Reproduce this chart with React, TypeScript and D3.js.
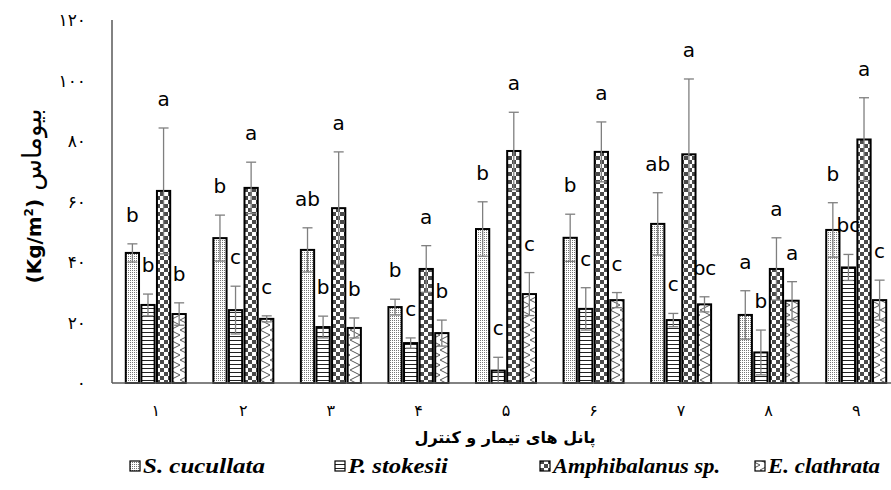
import React from "react";
import * as d3 from "d3";

// panel numbers (Persian digits)
const groups = ["۱", "۲", "۳", "۴", "۵", "۶", "۷", "۸", "۹"];
const seriesNames = ["S. cucullata", "P. stokesii", "Amphibalanus sp.", "E. clathrata"];
const yTickLabels = ["۰", "۲۰", "۴۰", "۶۰", "۸۰", "۱۰۰", "۱۲۰"];
const yTickValues = [0, 20, 40, 60, 80, 100, 120];

// biomass means and errors
const sMean = [43, 47.9, 44, 25.1, 50.9, 48, 52.6, 22.5, 50.6];
const sErr = [3, 7.6, 7.3, 2.6, 9, 7.8, 10.3, 8, 9];
const pMean = [25.8, 24.1, 18.5, 13.2, 4.1, 24.5, 20.8, 10.1, 38.2];
const pErr = [3.6, 7.9, 3.6, 1.7, 4.4, 7, 2.2, 7.4, 4.3];
const aMean = [63.5, 64.5, 57.8, 37.7, 76.7, 76.4, 75.6, 37.7, 80.5];
const aErr = [20.8, 8.5, 18.6, 7.7, 12.8, 9.9, 24.9, 10.3, 13.8];
const eMean = [22.8, 21.2, 18.2, 16.5, 29.4, 27.4, 26, 27.2, 27.4];
const eErr = [3.7, 1, 3.3, 4.3, 7.1, 2.5, 2.5, 6.3, 6.6];

// significance letters
const sLab = ["b", "b", "ab", "b", "b", "b", "ab", "a", "b"];
const pLab = ["b", "c", "b", "c", "c", "c", "c", "b", "bc"];
const aLab = ["a", "a", "a", "a", "a", "a", "a", "a", "a"];
const eLab = ["b", "c", "b", "b", "c", "c", "bc", "a", "c"];

const means = [sMean, pMean, aMean, eMean];
const errs = [sErr, pErr, aErr, eErr];
const labs = [sLab, pLab, aLab, eLab];
const patIds = ["patS", "patP", "patA", "patE"];

const W = 891;
const H = 490;
const left = 112;
const right = 900; // plot runs past the image edge, as in the source
const top = 20;
const bottom = 383;

export default function App() {
  const x0 = d3.scaleBand<string>().domain(groups).range([left, right]);
  const groupW = 60;
  const x1 = d3
    .scaleBand<string>()
    .domain(seriesNames)
    .range([0, groupW])
    .paddingInner(0.15);
  const off = (x0.bandwidth() - groupW) / 2;
  const y = d3.scaleLinear().domain([0, 120]).range([bottom, top]);
  const bw = x1.bandwidth();

  // legend layout
  const legX = [130, 335, 540, 755];
  const legLen = [122, 100, 167, 112];

  return (
    <svg
      width={W}
      height={H}
      style={{ position: "absolute", left: 0, top: 0, background: "#fff" }}
    >
      <defs>
        <pattern id="patS" width="2" height="2" patternUnits="userSpaceOnUse">
          <rect width="2" height="2" fill="#fff" />
          <rect width="1" height="1" fill="#777" />
        </pattern>
        <pattern id="patP" width="4" height="4" patternUnits="userSpaceOnUse">
          <rect width="4" height="4" fill="#fff" />
          <rect width="4" height="1" fill="#222" />
        </pattern>
        <pattern id="patA" width="8" height="8" patternUnits="userSpaceOnUse">
          <rect width="8" height="8" fill="#fff" />
          <rect width="4" height="4" fill="#4a4a4a" />
          <rect x="4" y="4" width="4" height="4" fill="#4a4a4a" />
        </pattern>
        <pattern id="patE" width="10" height="10" patternUnits="userSpaceOnUse">
          <rect width="10" height="10" fill="#fff" />
          <path d="M0,0 L10,5 L0,10" fill="none" stroke="#555" strokeWidth="1" />
        </pattern>
      </defs>

      {/* bars */}
      {seriesNames.map((s, si) =>
        groups.map((g, gi) => {
          const bx = x0(g)! + off + x1(s)!;
          const v = means[si][gi];
          return (
            <rect
              key={s + g}
              x={bx}
              y={y(v)}
              width={bw}
              height={y(0) - y(v)}
              fill={`url(#${patIds[si]})`}
              stroke="#000"
              strokeWidth={2}
            />
          );
        })
      )}

      {/* error bars */}
      {seriesNames.map((s, si) =>
        groups.map((g, gi) => {
          const cx = x0(g)! + off + x1(s)! + bw / 2;
          const v = means[si][gi];
          const e = errs[si][gi];
          const lo = Math.max(0, v - e);
          return (
            <g key={"e" + s + g} stroke="#7f7f7f" strokeWidth={1.3}>
              <line x1={cx} x2={cx} y1={y(v + e)} y2={y(lo)} />
              <line x1={cx - 5} x2={cx + 5} y1={y(v + e)} y2={y(v + e)} />
              <line x1={cx - 5} x2={cx + 5} y1={y(lo)} y2={y(lo)} />
            </g>
          );
        })
      )}

      {/* letters */}
      {seriesNames.map((s, si) =>
        groups.map((g, gi) => {
          const cx = x0(g)! + off + x1(s)! + bw / 2;
          const t = means[si][gi] + errs[si][gi];
          return (
            <text
              key={"l" + s + g}
              x={cx}
              y={y(t) - 22}
              textAnchor="middle"
              fontFamily="DejaVu Sans"
              fontSize={20}
              fill="#000"
            >
              {labs[si][gi]}
            </text>
          );
        })
      )}

      {/* axes */}
      <line x1={left} x2={left} y1={top} y2={bottom} stroke="#595959" strokeWidth={1.5} />
      <line x1={left} x2={W} y1={bottom} y2={bottom} stroke="#595959" strokeWidth={1.5} />

      {yTickValues.map((v, i) => (
        <text
          key={"yt" + v}
          x={86}
          y={y(v) + 6}
          textAnchor="end"
          fontFamily="DejaVu Sans"
          fontSize={17}
          fill="#000"
        >
          {yTickLabels[i]}
        </text>
      ))}

      {groups.map((g) => (
        <text
          key={"xt" + g}
          x={x0(g)! + x0.bandwidth() / 2}
          y={416}
          textAnchor="middle"
          fontFamily="DejaVu Sans"
          fontSize={16}
          fill="#000"
        >
          {g}
        </text>
      ))}

      <text
        x={505}
        y={443}
        textAnchor="middle"
        fontFamily="DejaVu Sans"
        fontWeight="bold"
        fontSize={16}
        fill="#000"
      >
        پانل های تیمار و کنترل
      </text>

      <text
        transform="translate(41,196) rotate(-90)"
        textAnchor="middle"
        fontFamily="DejaVu Sans"
        fill="#000"
        direction="ltr"
      >
        <tspan fontWeight="bold" fontSize={20}>(Kg/m</tspan>
        <tspan fontWeight="bold" fontSize={12} dy={-8}>2</tspan>
        <tspan fontWeight="bold" fontSize={20} dy={8}>)</tspan>
        <tspan fontSize={26}> بیوماس</tspan>
      </text>

      {/* legend */}
      {seriesNames.map((s, si) => (
        <g key={"lg" + s}>
          <rect
            x={legX[si]}
            y={461}
            width={10}
            height={10}
            fill={`url(#${patIds[si]})`}
            stroke="#000"
            strokeWidth={1.2}
          />
          <text
            x={legX[si] + 13}
            y={473}
            fontFamily="Liberation Serif"
            fontStyle="italic"
            fontWeight="bold"
            fontSize={20}
            textLength={legLen[si]}
            lengthAdjust="spacingAndGlyphs"
            fill="#000"
          >
            {s}
          </text>
        </g>
      ))}
    </svg>
  );
}
